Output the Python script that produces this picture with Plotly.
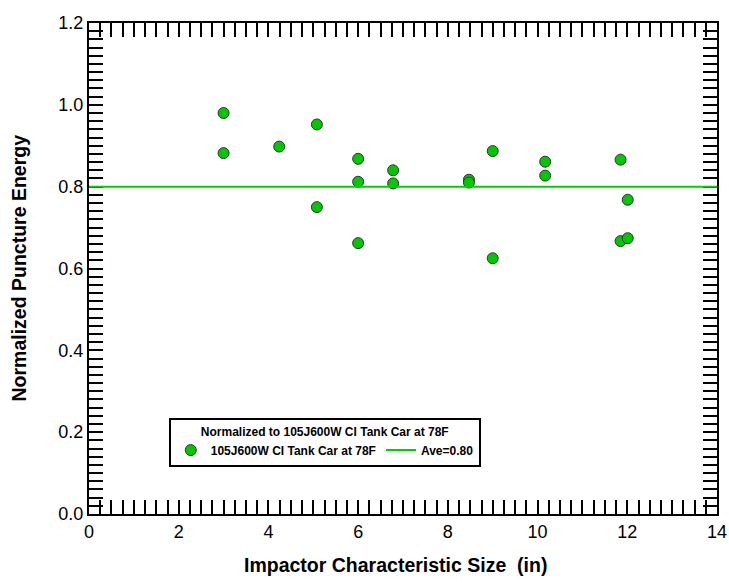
import plotly.graph_objects as go

# Impactor characteristic size (in) and normalized puncture energy per test
size_in = [3.0, 3.0, 4.24, 5.08, 5.08, 6.0, 6.0, 6.0, 6.78, 6.78,
           8.47, 8.47, 9.0, 9.0, 10.17, 10.17, 11.85, 11.85, 12.01, 12.01]
norm_energy = [0.980, 0.882, 0.898, 0.952, 0.750, 0.868, 0.812, 0.662, 0.840, 0.808,
               0.817, 0.810, 0.887, 0.625, 0.861, 0.827, 0.866, 0.667, 0.768, 0.674]

average_value = 0.80
average_x = [0, 14]

series_name = "105J600W CI Tank Car at 78F"
average_name = "Ave=0.80"
legend_title = "Normalized to 105J600W CI Tank Car at 78F"

x_title = "Impactor Characteristic Size  (in)"
y_title = "Normalized Puncture Energy"

x_range = [0, 14]
y_range = [0, 1.2]
x_mid_ticks = [1, 3, 5, 7, 9, 11, 13]
y_mid_ticks = [0.1, 0.3, 0.5, 0.7, 0.9, 1.1]

FONT = "Liberation Sans, Arial, sans-serif"
GREEN = "#00C800"

fig = go.Figure()

fig.add_trace(go.Scatter(
    x=size_in, y=norm_energy, mode="markers", name=series_name,
    marker=dict(size=11, color=GREEN, line=dict(color="#333333", width=1)),
))
fig.add_trace(go.Scatter(
    x=average_x, y=[average_value] * len(average_x), mode="lines", name=average_name,
    line=dict(color="#00D000", width=2),
))
# invisible helpers so the intermediate-tick axes get drawn
fig.add_trace(go.Scatter(x=[None], y=[None], xaxis="x2", yaxis="y",
                         showlegend=False, hoverinfo="skip"))
fig.add_trace(go.Scatter(x=[None], y=[None], xaxis="x", yaxis="y2",
                         showlegend=False, hoverinfo="skip"))

axis_common = dict(
    showline=True, linecolor="black", linewidth=2, mirror="allticks",
    ticks="inside", tickcolor="black", tickwidth=1.5,
    showgrid=False, zeroline=False, automargin=False, layer="below traces",
    tickfont=dict(family=FONT, size=18, color="black"),
)
overlay_common = dict(
    tickmode="array", showticklabels=False,
    ticks="inside", ticklen=11, tickcolor="black", tickwidth=1.5,
    mirror="allticks", showline=True, linecolor="black", linewidth=2,
    showgrid=False, zeroline=False, automargin=False, layer="below traces",
)

fig.update_layout(
    width=729, height=584,
    margin=dict(l=89, r=12, t=23, b=70, autoexpand=False),
    paper_bgcolor="white", plot_bgcolor="white",
    font=dict(family=FONT, color="black"),
    xaxis=dict(
        **axis_common, range=x_range, dtick=2, tick0=0, ticklen=14,
        minor=dict(dtick=0.25, tick0=0, ticklen=7, ticks="inside",
                   tickcolor="black", tickwidth=1.5),
    ),
    yaxis=dict(
        **axis_common, range=y_range, dtick=0.2, tick0=0, ticklen=14,
        tickformat=".1f",
        minor=dict(dtick=0.02, tick0=0, ticklen=7, ticks="inside",
                   tickcolor="black", tickwidth=1.5),
    ),
    xaxis2=dict(**overlay_common, overlaying="x", anchor="y", side="bottom",
                range=x_range, tickvals=x_mid_ticks),
    yaxis2=dict(**overlay_common, overlaying="y", anchor="x", side="left",
                range=y_range, tickvals=y_mid_ticks),
    annotations=[
        dict(text=f"<b>{x_title}</b>", xref="paper", yref="paper",
             x=0.5, y=0, xanchor="center", yanchor="middle", yshift=-51, xshift=-8,
             showarrow=False, font=dict(family=FONT, size=19.5, color="black")),
        dict(text=f"<b>{y_title}</b>", xref="paper", yref="paper",
             x=0, y=0.5, xanchor="center", yanchor="middle", xshift=-71,
             textangle=-90, showarrow=False,
             font=dict(family=FONT, size=19.5, color="black")),
    ],
    showlegend=True,
    legend=dict(
        x=0.127, y=0.1955, xanchor="left", yanchor="top",
        orientation="h",
        bgcolor="white", bordercolor="black", borderwidth=2,
        font=dict(family=FONT, size=12, color="black", weight="bold"),
        title=dict(text=legend_title, side="top center",
                   font=dict(family=FONT, size=12, color="black", weight="bold")),
        itemwidth=30, tracegroupgap=0,
    ),
)

fig.write_html("out.html")
